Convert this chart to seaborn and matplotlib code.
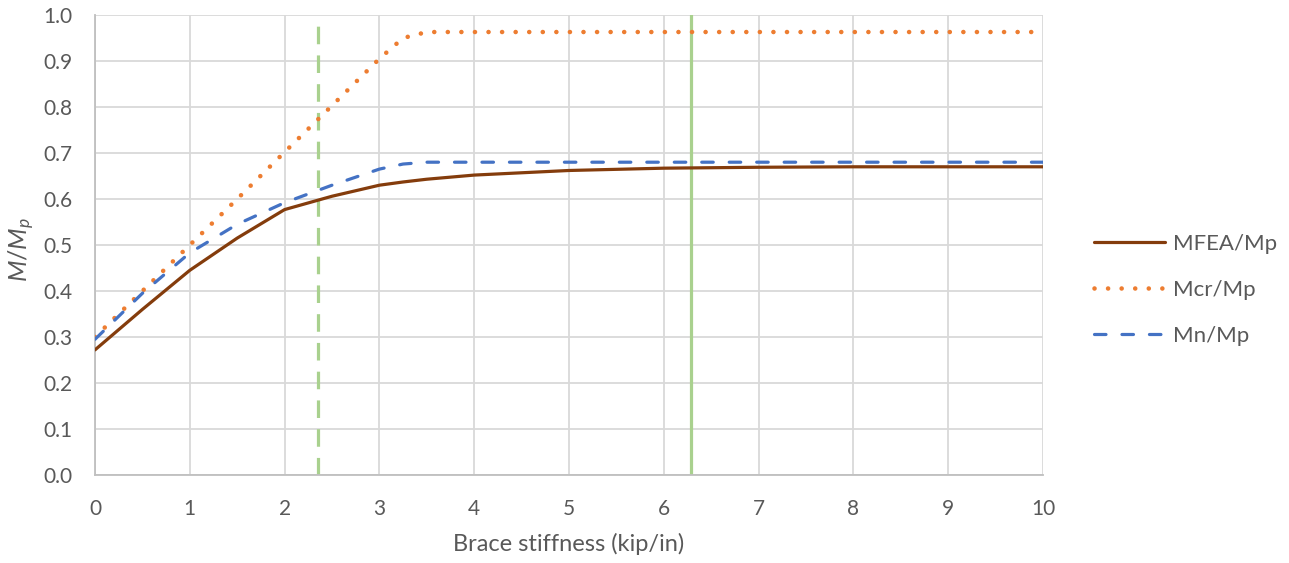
import matplotlib
matplotlib.use("Agg")
import matplotlib.pyplot as plt
import seaborn as sns
import pandas as pd
import numpy as np

# Data
x_vals = [0, 0.5, 1, 1.5, 2, 2.5, 3, 3.25, 3.5, 4, 5, 6, 7, 8, 9, 10]
mfea = [0.272, 0.360, 0.445, 0.515, 0.577, 0.606, 0.630, 0.637, 0.643, 0.652, 0.662, 0.667, 0.669, 0.670, 0.670, 0.670]
mcr = [0.300, 0.400, 0.500, 0.600, 0.702, 0.803, 0.905, 0.950, 0.963, 0.963, 0.963, 0.963, 0.963, 0.963, 0.963, 0.963]
mn = [0.295, 0.395, 0.483, 0.545, 0.592, 0.630, 0.665, 0.676, 0.680, 0.680, 0.680, 0.680, 0.680, 0.680, 0.680, 0.680]
series_names = ["MFEA/Mp", "Mcr/Mp", "Mn/Mp"]
vline_dashed = 2.35
vline_solid = 6.29
x_ticks = list(range(0, 11))
y_ticks = [0.0, 0.1, 0.2, 0.3, 0.4, 0.5, 0.6, 0.7, 0.8, 0.9, 1.0]

sns.set_theme(style="white")
plt.rcParams['font.family'] = ['Lato', 'DejaVu Sans']
plt.rcParams['mathtext.fontset'] = 'custom'
plt.rcParams['mathtext.it'] = 'Lato:italic'
plt.rcParams['mathtext.rm'] = 'Lato'

gray_text = "#595959"
grid_c = "#d9d9d9"

fig = plt.figure(figsize=(12.89, 5.63), dpi=100)
ax = fig.add_axes([95/1289, 88/563, (1043-95)/1289, (475-15)/563])

df = pd.DataFrame({"x": x_vals, series_names[0]: mfea, series_names[1]: mcr, series_names[2]: mn})

ax.axvline(vline_dashed, color="#a9d18e", lw=2.3, ls=(0, (5.5, 3.5)), zorder=2)
ax.axvline(vline_solid, color="#a9d18e", lw=2.3, zorder=2)

sns.lineplot(data=df, x="x", y=series_names[0], ax=ax, color="#843c0c", lw=2.3, label=series_names[0], zorder=3)
sns.lineplot(data=df, x="x", y=series_names[1], ax=ax, color="#ed7d31", lw=3.3, label=series_names[1], zorder=3)
sns.lineplot(data=df, x="x", y=series_names[2], ax=ax, color="#4472c4", lw=2.3, label=series_names[2], zorder=3)

lines = ax.get_lines()
lines[3].set_linestyle((0, (0.01, 2.95)))
lines[3].set_dash_capstyle("round")
lines[4].set_linestyle((0, (3.6, 5.0)))
lines[4].set_dash_capstyle("round")

ax.set_xlim(0, 10)
ax.set_ylim(0, 1.0)
ax.set_xticks(x_ticks)
ax.set_yticks(y_ticks)
ax.set_xticklabels([str(t) for t in x_ticks])
ax.set_yticklabels([f"{t:.1f}" for t in y_ticks])
ax.grid(True, color=grid_c, lw=1.3)
ax.set_axisbelow(True)
for s in ["top", "right"]:
    ax.spines[s].set_visible(False)
for s in ["left", "bottom"]:
    ax.spines[s].set_color("#bfbfbf")
    ax.spines[s].set_linewidth(1.3)
ax.tick_params(axis="both", length=0, labelsize=15, colors=gray_text)
ax.tick_params(axis="x", pad=17)
ax.tick_params(axis="y", pad=16)
ax.set_xlabel("Brace stiffness (kip/in)", fontsize=17, color=gray_text)
ax.xaxis.set_label_coords(0.5, -0.125)
ax.set_ylabel(r"$M/M_p$", fontsize=18, color=gray_text)
ax.yaxis.set_label_coords(-0.061, 0.49)

handles, labels = ax.get_legend_handles_labels()
leg = fig.legend(handles, labels, loc="center left", bbox_to_anchor=(1094/1289, 1 - 290/563),
                 bbox_transform=fig.transFigure, frameon=False, borderpad=0, borderaxespad=0,
                 fontsize=16, labelcolor=gray_text, handlelength=3.2, labelspacing=1.18, handletextpad=0.35)
if ax.get_legend():
    ax.get_legend().remove()

fig.savefig("out.png", dpi=100)
